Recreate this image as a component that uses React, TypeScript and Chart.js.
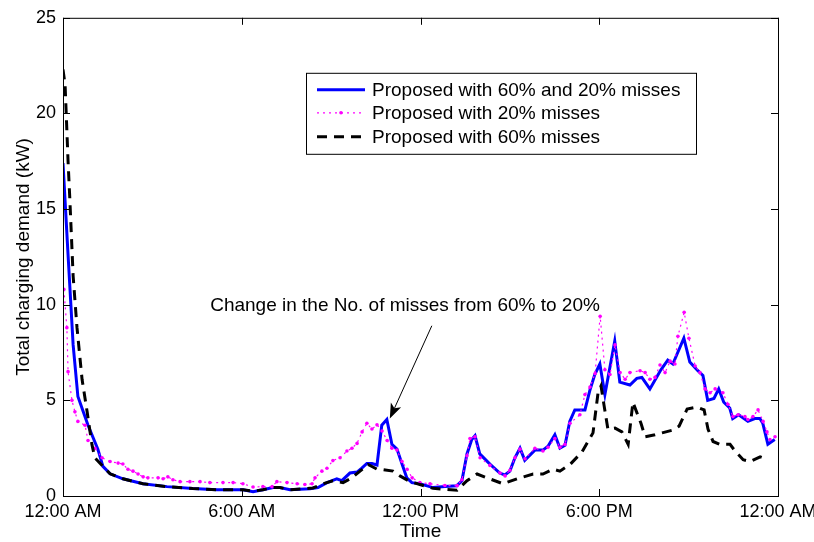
import React, { useEffect, useRef } from "react";
import { Chart, registerables } from "chart.js";

Chart.register(...registerables);

// Hour of day (0–24) and total charging demand (kW) for each scheme
const combinedHours = [0, 0.17, 0.34, 0.5, 0.84, 1.17, 1.34, 1.58, 2.01, 2.68, 3.49, 4.36, 5.17, 6.04, 6.38, 6.71, 7.05, 7.28, 7.62, 8.29, 8.56, 8.86, 9.19, 9.36, 9.63, 9.87, 10.03, 10.2, 10.37, 10.54, 10.7, 10.87, 11.04, 11.21, 11.38, 11.54, 11.71, 11.98, 12.42, 12.82, 13.22, 13.39, 13.56, 13.72, 13.83, 13.99, 14.33, 14.66, 14.83, 15.0, 15.17, 15.34, 15.5, 15.84, 16.11, 16.28, 16.51, 16.68, 16.85, 17.01, 17.18, 17.52, 17.68, 17.85, 18.02, 18.19, 18.52, 18.69, 19.03, 19.26, 19.43, 19.7, 20.07, 20.3, 20.47, 20.84, 21.04, 21.31, 21.48, 21.64, 21.85, 22.01, 22.18, 22.38, 22.48, 22.68, 22.99, 23.22, 23.39, 23.49, 23.66, 23.89];
const combinedDemand = [17.4, 12.6, 7.9, 5.2, 3.7, 2.45, 1.55, 1.16, 0.9, 0.64, 0.49, 0.39, 0.33, 0.33, 0.23, 0.33, 0.44, 0.44, 0.33, 0.38, 0.44, 0.7, 0.9, 0.8, 1.2, 1.25, 1.46, 1.7, 1.7, 1.62, 3.7, 4.0, 2.7, 2.45, 1.67, 0.95, 0.7, 0.64, 0.44, 0.5, 0.54, 0.8, 2.2, 2.95, 3.15, 2.2, 1.67, 1.2, 1.1, 1.3, 2.0, 2.5, 1.87, 2.4, 2.4, 2.6, 3.2, 2.5, 2.65, 3.9, 4.5, 4.5, 5.5, 6.35, 6.9, 5.3, 8.1, 5.95, 5.8, 6.15, 6.2, 5.6, 6.6, 7.1, 6.9, 8.25, 7.0, 6.55, 6.3, 5.0, 5.1, 5.6, 4.9, 4.6, 4.05, 4.25, 3.9, 4.05, 4.05, 3.8, 2.7, 2.95];

const miss20Hours = [0.03, 0.13, 0.17, 0.3, 0.4, 0.5, 0.74, 0.84, 1.07, 1.31, 1.58, 1.85, 2.01, 2.18, 2.35, 2.52, 2.69, 2.85, 3.19, 3.36, 3.52, 3.69, 3.93, 4.26, 4.6, 4.93, 5.37, 5.71, 6.04, 6.38, 6.71, 7.02, 7.18, 7.52, 7.86, 8.12, 8.36, 8.46, 8.69, 8.86, 9.06, 9.3, 9.53, 9.7, 9.87, 10.04, 10.2, 10.37, 10.54, 10.71, 10.88, 11.04, 11.21, 11.38, 11.55, 11.72, 11.98, 12.32, 12.82, 13.23, 13.39, 13.56, 13.66, 13.83, 14.0, 14.33, 14.67, 14.84, 15.0, 15.17, 15.34, 15.51, 15.84, 16.11, 16.28, 16.51, 16.68, 16.85, 17.02, 17.35, 17.52, 17.69, 17.86, 18.03, 18.19, 18.36, 18.53, 18.7, 18.87, 19.03, 19.37, 19.54, 19.7, 19.87, 20.04, 20.21, 20.38, 20.54, 20.64, 20.85, 21.01, 21.22, 21.38, 21.55, 21.72, 21.89, 22.15, 22.32, 22.49, 22.66, 22.89, 22.99, 23.16, 23.33, 23.5, 23.63, 23.73, 23.9];
const miss20Demand = [10.8, 8.8, 6.5, 5.0, 4.4, 3.9, 3.7, 2.9, 2.5, 2.0, 1.8, 1.72, 1.67, 1.4, 1.3, 1.15, 1.0, 0.95, 0.95, 0.9, 1.0, 0.85, 0.75, 0.75, 0.75, 0.7, 0.7, 0.7, 0.64, 0.47, 0.49, 0.49, 0.75, 0.7, 0.64, 0.6, 0.64, 0.95, 1.3, 1.45, 1.85, 2.0, 2.35, 2.5, 2.75, 3.35, 3.8, 3.5, 3.72, 3.4, 2.9, 2.5, 2.4, 1.8, 1.4, 0.95, 0.7, 0.64, 0.55, 0.54, 0.85, 2.1, 3.0, 3.1, 2.0, 1.6, 1.2, 1.05, 1.35, 2.0, 2.45, 1.95, 2.5, 2.35, 2.55, 3.0, 2.55, 2.7, 3.8, 4.25, 5.3, 5.7, 6.4, 9.4, 6.6, 6.35, 7.9, 6.45, 6.1, 6.45, 6.55, 6.45, 6.1, 6.2, 6.85, 6.45, 7.05, 6.9, 8.35, 9.6, 8.25, 6.8, 6.45, 5.6, 5.4, 5.6, 5.4, 4.8, 4.15, 4.25, 4.15, 4.0, 4.15, 4.5, 3.9, 3.35, 2.95, 3.1];

const miss60Hours = [0, 0.07, 0.17, 0.23, 0.34, 0.47, 0.64, 0.81, 0.97, 1.07, 1.34, 1.58, 2.01, 2.69, 3.49, 4.36, 5.17, 6.04, 6.38, 6.71, 7.05, 7.28, 7.62, 8.39, 8.73, 9.06, 9.4, 9.7, 9.97, 10.24, 10.54, 10.74, 11.08, 11.31, 11.65, 11.98, 12.42, 13.23, 13.56, 13.9, 14.23, 14.77, 15.24, 15.78, 16.11, 16.45, 16.68, 17.02, 17.42, 17.79, 17.96, 18.06, 18.16, 18.29, 18.53, 18.76, 18.97, 19.13, 19.4, 19.54, 19.87, 20.11, 20.48, 20.68, 20.95, 21.28, 21.52, 21.65, 21.82, 22.05, 22.39, 22.56, 22.83, 23.06, 23.4, 23.67];
const miss60Demand = [22.3, 21.5, 17.5, 15.5, 11.5, 8.8, 6.1, 4.4, 2.7, 2.0, 1.55, 1.16, 0.9, 0.64, 0.49, 0.39, 0.33, 0.33, 0.25, 0.33, 0.44, 0.44, 0.33, 0.42, 0.64, 0.8, 0.7, 0.95, 1.3, 1.65, 1.4, 1.38, 1.3, 1.05, 0.75, 0.6, 0.4, 0.3, 0.8, 1.15, 0.95, 0.64, 0.9, 1.15, 1.15, 1.4, 1.3, 1.65, 2.3, 3.3, 5.4, 5.75, 4.75, 3.5, 3.55, 3.35, 2.7, 4.9, 3.8, 3.1, 3.2, 3.3, 3.45, 3.65, 4.55, 4.65, 4.5, 3.5, 2.85, 2.7, 2.7, 2.35, 1.9, 1.8, 2.05, 1.9];

const timeTickLabels = ["12:00 AM", "6:00 AM", "12:00 PM", "6:00 PM", "12:00 AM"];
const seriesNames = [
  "Proposed with 60% and 20% misses",
  "Proposed with 20% misses",
  "Proposed with 60% misses",
];
const xAxisTitle = "Time";
const yAxisTitle = "Total charging demand (kW)";

// Callout: label position and arrow in data units (hour, kW)
const calloutText = "Change in the No. of misses from 60% to 20%";
const calloutAt = { x: 11.48, y: 9.95 };
const arrowFrom = { x: 12.38, y: 8.9 };
const arrowTo = { x: 10.97, y: 4.05 };

const FONT = "'Liberation Sans', Arial, Helvetica, sans-serif";
const BLUE = "#0000ff";
const MAGENTA = "#ff00ff";
const BLACK = "#000000";

const toPoints = (xs: number[], ys: number[]) => xs.map((x, i) => ({ x, y: ys[i] }));

// Draws the boxed frame with inward ticks, the callout and the in-plot legend
const decorations = {
  id: "decorations",
  afterDraw(chart: any) {
    const { ctx, chartArea: a, scales } = chart;
    const xs = scales.x;
    const ys = scales.y;
    ctx.save();

    // frame
    ctx.strokeStyle = BLACK;
    ctx.lineWidth = 1;
    ctx.setLineDash([]);
    ctx.strokeRect(a.left + 0.5, a.top + 0.5, a.right - a.left, a.bottom - a.top);

    // inward ticks on all four sides
    const tl = 7;
    ctx.beginPath();
    xs.ticks.forEach((t: any) => {
      const px = Math.round(xs.getPixelForValue(t.value)) + 0.5;
      ctx.moveTo(px, a.bottom);
      ctx.lineTo(px, a.bottom - tl);
      ctx.moveTo(px, a.top);
      ctx.lineTo(px, a.top + tl);
    });
    ys.ticks.forEach((t: any) => {
      const py = Math.round(ys.getPixelForValue(t.value)) + 0.5;
      ctx.moveTo(a.left, py);
      ctx.lineTo(a.left + tl, py);
      ctx.moveTo(a.right, py);
      ctx.lineTo(a.right - tl, py);
    });
    ctx.stroke();

    // callout label
    ctx.fillStyle = BLACK;
    ctx.font = `19px ${FONT}`;
    ctx.textAlign = "center";
    ctx.textBaseline = "middle";
    ctx.fillText(calloutText, xs.getPixelForValue(calloutAt.x), ys.getPixelForValue(calloutAt.y));

    // callout arrow
    const x0 = xs.getPixelForValue(arrowFrom.x);
    const y0 = ys.getPixelForValue(arrowFrom.y);
    const x1 = xs.getPixelForValue(arrowTo.x);
    const y1 = ys.getPixelForValue(arrowTo.y);
    const ang = Math.atan2(y1 - y0, x1 - x0);
    const headLen = 16;
    const headHalf = 0.36;
    ctx.beginPath();
    ctx.moveTo(x0, y0);
    ctx.lineTo(x1 - Math.cos(ang) * headLen * 0.7, y1 - Math.sin(ang) * headLen * 0.7);
    ctx.stroke();
    ctx.beginPath();
    ctx.moveTo(x1, y1);
    ctx.lineTo(x1 - headLen * Math.cos(ang - headHalf), y1 - headLen * Math.sin(ang - headHalf));
    ctx.lineTo(x1 - headLen * 0.7 * Math.cos(ang), y1 - headLen * 0.7 * Math.sin(ang));
    ctx.lineTo(x1 - headLen * Math.cos(ang + headHalf), y1 - headLen * Math.sin(ang + headHalf));
    ctx.closePath();
    ctx.fill();

    // legend box
    const bx = a.left + 243;
    const by = a.top + 55;
    const bw = 390;
    const bh = 81;
    ctx.fillStyle = "#ffffff";
    ctx.fillRect(bx, by, bw, bh);
    ctx.strokeStyle = BLACK;
    ctx.lineWidth = 1;
    ctx.strokeRect(bx + 0.5, by + 0.5, bw, bh);

    const rows = [by + 17, by + 40, by + 64];
    const lx0 = bx + 11;
    const lx1 = bx + 59;
    chart.data.datasets.forEach((ds: any, i: number) => {
      const ry = rows[i];
      ctx.save();
      ctx.strokeStyle = ds.borderColor;
      ctx.lineWidth = ds.borderWidth;
      ctx.setLineDash(ds.borderDash || []);
      ctx.beginPath();
      ctx.moveTo(lx0, ry);
      ctx.lineTo(lx1, ry);
      ctx.stroke();
      if (ds.pointRadius > 0) {
        ctx.fillStyle = ds.pointBackgroundColor;
        ctx.beginPath();
        ctx.arc((lx0 + lx1) / 2, ry, ds.pointRadius, 0, Math.PI * 2);
        ctx.fill();
      }
      ctx.restore();
      ctx.fillStyle = BLACK;
      ctx.font = `19px ${FONT}`;
      ctx.textAlign = "left";
      ctx.textBaseline = "middle";
      ctx.fillText(ds.label, bx + 66, ry + 1);
    });

    ctx.restore();
  },
};

export default function App() {
  const canvasRef = useRef<HTMLCanvasElement | null>(null);

  useEffect(() => {
    const canvas = canvasRef.current;
    if (!canvas) return;
    const chart = new Chart(canvas, {
      type: "line",
      data: {
        datasets: [
          {
            label: seriesNames[0],
            data: toPoints(combinedHours, combinedDemand),
            borderColor: BLUE,
            backgroundColor: BLUE,
            borderWidth: 3,
            pointRadius: 0,
            tension: 0,
            order: 3,
          },
          {
            label: seriesNames[1],
            data: toPoints(miss20Hours, miss20Demand),
            borderColor: MAGENTA,
            backgroundColor: MAGENTA,
            borderWidth: 1.2,
            borderDash: [2, 4],
            pointRadius: 1.8,
            pointBorderWidth: 0,
            pointBackgroundColor: MAGENTA,
            tension: 0,
            order: 2,
          },
          {
            label: seriesNames[2],
            data: toPoints(miss60Hours, miss60Demand),
            borderColor: BLACK,
            backgroundColor: BLACK,
            borderWidth: 3,
            borderDash: [10, 7],
            pointRadius: 0,
            tension: 0,
            order: 1,
          },
        ],
      },
      options: {
        animation: false,
        responsive: false,
        devicePixelRatio: 1,
        layout: { padding: { top: 10, right: 36, left: 0, bottom: 0 } },
        plugins: {
          legend: { display: false },
          tooltip: { enabled: false },
        },
        scales: {
          x: {
            type: "linear",
            min: 0,
            max: 24,
            afterFit: (s: any) => {
              s.height = 46;
              s.paddingLeft = 0;
              s.paddingRight = 0;
            },
            grid: { display: false, drawTicks: false },
            border: { display: false },
            ticks: {
              stepSize: 6,
              autoSkip: false,
              maxRotation: 0,
              padding: 5,
              color: BLACK,
              font: { family: FONT, size: 18 },
              callback: (v: any) => timeTickLabels[Math.round(Number(v) / 6)],
            },
            title: {
              display: true,
              text: xAxisTitle,
              color: BLACK,
              font: { family: FONT, size: 19, lineHeight: 1 },
              padding: { top: 0, bottom: 0.5 },
            },
          },
          y: {
            min: 0,
            max: 25,
            afterFit: (s: any) => {
              s.width = 63;
            },
            grid: { display: false, drawTicks: false },
            border: { display: false },
            ticks: {
              stepSize: 5,
              padding: 7,
              color: BLACK,
              font: { family: FONT, size: 18 },
            },
            title: {
              display: true,
              text: yAxisTitle,
              color: BLACK,
              font: { family: FONT, size: 19, lineHeight: 1 },
              padding: { top: 14, bottom: 0 },
            },
          },
        },
      },
      plugins: [decorations],
    });
    return () => chart.destroy();
  }, []);

  return (
    <div style={{ position: "fixed", left: 0, top: 0, width: 814, height: 542, background: "#fff" }}>
      <canvas ref={canvasRef} width={814} height={542} style={{ width: 814, height: 542, display: "block" }} />
    </div>
  );
}
